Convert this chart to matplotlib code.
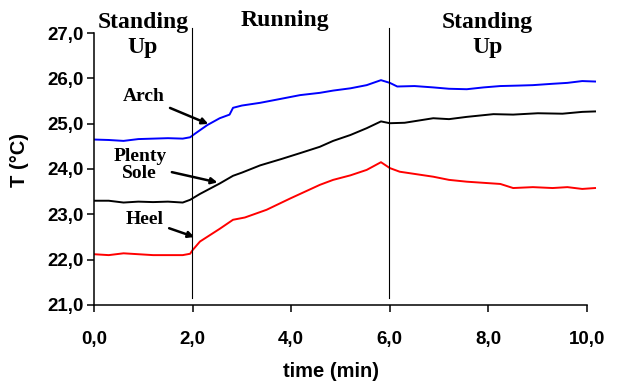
import matplotlib
matplotlib.use("Agg")
import matplotlib.pyplot as plt

# arch (blue)
t_arch = [0, 0.3, 0.6, 0.9, 1.2, 1.5, 1.8, 1.95, 2.05, 2.3, 2.55, 2.75, 2.82, 3.0, 3.37, 3.8,
          4.18, 4.58, 4.85, 5.2, 5.53, 5.82, 6.0, 6.15, 6.5, 6.88, 7.2, 7.56, 7.9, 8.24, 8.6,
          8.9, 9.3, 9.6, 9.9, 10.16]
T_arch = [24.65, 24.64, 24.62, 24.66, 24.67, 24.68, 24.67, 24.7, 24.78, 24.97, 25.12, 25.2,
          25.35, 25.4, 25.46, 25.55, 25.63, 25.68, 25.73, 25.78, 25.85, 25.96, 25.9, 25.82,
          25.83, 25.8, 25.77, 25.76, 25.8, 25.83, 25.84, 25.85, 25.88, 25.9, 25.94, 25.93]

# plenty sole (black)
t_sole = [0, 0.3, 0.6, 0.9, 1.2, 1.5, 1.8, 1.95, 2.15, 2.55, 2.82, 3.0, 3.37, 3.8, 4.18, 4.58,
          4.85, 5.2, 5.53, 5.82, 6.0, 6.3, 6.88, 7.2, 7.56, 8.1, 8.5, 9.0, 9.5, 9.9, 10.16]
T_sole = [23.3, 23.3, 23.26, 23.28, 23.27, 23.28, 23.26, 23.32, 23.45, 23.68, 23.85, 23.92,
          24.08, 24.22, 24.35, 24.49, 24.62, 24.75, 24.9, 25.05, 25.01, 25.02, 25.12, 25.1,
          25.15, 25.21, 25.2, 25.23, 25.22, 25.26, 25.27]

# heel (red)
t_heel = [0, 0.3, 0.6, 0.9, 1.2, 1.5, 1.8, 1.95, 2.0, 2.15, 2.55, 2.82, 3.06, 3.5, 3.98, 4.18,
          4.58, 4.85, 5.2, 5.53, 5.82, 6.0, 6.2, 6.88, 7.2, 7.56, 8.24, 8.5, 8.9, 9.3, 9.6,
          9.9, 10.16]
T_heel = [22.12, 22.1, 22.14, 22.12, 22.1, 22.1, 22.1, 22.13, 22.21, 22.4, 22.68, 22.88,
          22.93, 23.1, 23.35, 23.45, 23.65, 23.76, 23.86, 23.98, 24.15, 24.02, 23.94, 23.83,
          23.76, 23.72, 23.67, 23.58, 23.6, 23.58, 23.6, 23.56, 23.58]

x_ticks = [0, 2, 4, 6, 8, 10]
x_labels = ["0,0", "2,0", "4,0", "6,0", "8,0", "10,0"]
y_ticks = [21, 22, 23, 24, 25, 26, 27]
y_labels = ["21,0", "22,0", "23,0", "24,0", "25,0", "26,0", "27,0"]

phase_bounds = [1.98, 5.98]
phases = [("Standing\nUp", 0.99), ("Running", 3.87), ("Standing\nUp", 7.98)]

fig = plt.figure(figsize=(6.18, 3.83), dpi=100)
ax = fig.add_axes([0.152, 0.2037, 0.822, 0.7101])

ax.plot(t_arch, T_arch, color="#0000ff", lw=1.4)
ax.plot(t_sole, T_sole, color="black", lw=1.4)
ax.plot(t_heel, T_heel, color="#ff0000", lw=1.4)

for xb in phase_bounds:
    ax.plot([xb, xb], [21.15, 27.12], color="black", lw=0.8, clip_on=False)

ax.set_xlim(0, 10.3)
ax.set_ylim(21, 27)
ax.spines["top"].set_visible(False)
ax.spines["right"].set_visible(False)
ax.spines["bottom"].set_bounds(0, 10)
for s in ("left", "bottom"):
    ax.spines[s].set_linewidth(1.1)

ax.set_xticks(x_ticks)
ax.set_xticklabels(x_labels, fontsize=13.5, fontweight="bold", family="Liberation Sans")
ax.set_yticks(y_ticks)
ax.set_yticklabels(y_labels, fontsize=13.5, fontweight="bold", family="Liberation Sans")
ax.tick_params(axis="x", length=5, width=1.1, pad=14)
ax.tick_params(axis="y", length=5, width=1.1, pad=2)

ax.set_xlabel("time (min)", fontsize=14.5, fontweight="bold", family="Liberation Sans")
ax.set_ylabel("T (°C)", fontsize=14.5, fontweight="bold", family="Liberation Sans")
ax.xaxis.set_label_coords(0.467, -0.21)
ax.yaxis.set_label_coords(-0.128, 0.533)

serif = dict(family="Liberation Serif", fontweight="bold")
for label, xc in phases:
    if "\n" in label:
        ax.text(xc, 26.96, label, ha="center", va="center", fontsize=17, linespacing=1.25,
                clip_on=False, **serif)
    else:
        ax.text(xc, 27.28, label, ha="center", va="center", fontsize=17, clip_on=False, **serif)

arrow = dict(arrowstyle="-|>", color="black", lw=1.8, mutation_scale=9)
ax.annotate("Arch", xy=(2.37, 24.97), xytext=(1.01, 25.59), ha="center", va="center",
            fontsize=14, arrowprops=arrow, **serif)
ax.annotate("Plenty\nSole", xy=(2.56, 23.69), xytext=(0.93, 24.09), ha="center", va="center",
            fontsize=14, linespacing=1.05, arrowprops=arrow, **serif)
ax.annotate("Heel", xy=(2.09, 22.48), xytext=(1.03, 22.88), ha="center", va="center",
            fontsize=14, arrowprops=arrow, **serif)

fig.savefig("out.png", dpi=100)
